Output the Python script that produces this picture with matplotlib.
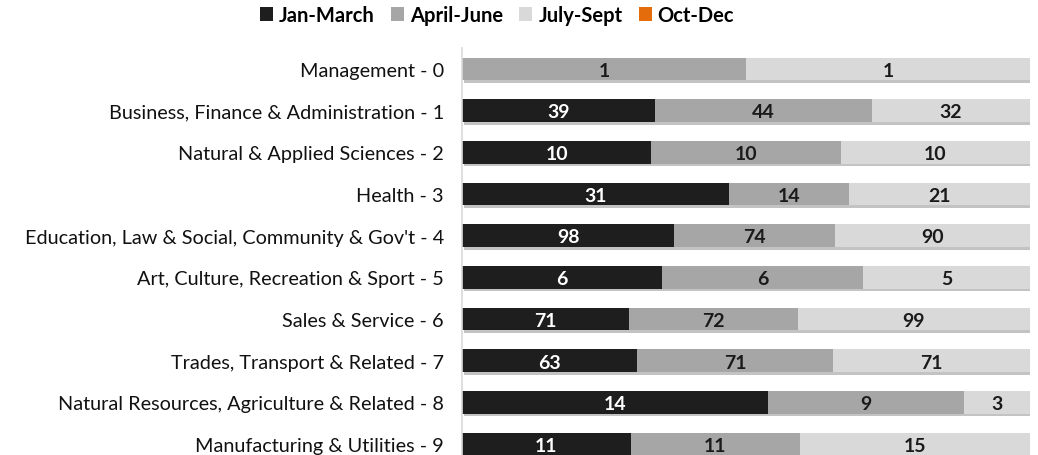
import matplotlib
matplotlib.use("Agg")
import matplotlib.pyplot as plt
import matplotlib.patheffects as pe
import numpy as np

categories = ["Management - 0", "Business, Finance & Administration - 1",
              "Natural & Applied Sciences - 2", "Health - 3",
              "Education, Law & Social, Community & Gov't - 4",
              "Art, Culture, Recreation & Sport - 5", "Sales & Service - 6",
              "Trades, Transport & Related - 7",
              "Natural Resources, Agriculture & Related - 8",
              "Manufacturing & Utilities - 9"]
series_names = ["Jan-March", "April-June", "July-Sept", "Oct-Dec"]
jan_march = [0, 39, 10, 31, 98, 6, 71, 63, 14, 11]
april_june = [1, 44, 10, 14, 74, 6, 72, 71, 9, 11]
july_sept = [1, 32, 10, 21, 90, 5, 99, 71, 3, 15]
oct_dec = [0, 0, 0, 0, 0, 0, 0, 0, 0, 0]

colors = ["#1e1e1e", "#a6a6a6", "#d9d9d9", "#e46c0a"]
text_colors = ["white", "#1a1a1a", "#1a1a1a", "#1a1a1a"]

plt.rcParams['font.family'] = ['Lato', 'DejaVu Sans']

fig = plt.figure(figsize=(10.38, 4.56), dpi=100)
ax = fig.add_axes([462/1038, 0.0, (1030-462)/1038, 1-49/456])

data = np.array([jan_march, april_june, july_sept, oct_dec], dtype=float)
totals = data.sum(axis=0)
pct = data / totals
y = np.arange(len(categories))
left = np.zeros(len(categories))
shadow = [pe.SimplePatchShadow(offset=(1.5, -2), alpha=0.35, shadow_rgbFace="#555555"), pe.Normal()]
for i, name in enumerate(series_names):
    bars = ax.barh(y, pct[i], left=left, height=0.54, color=colors[i], label=name,
                   zorder=2)
    for b, v, l, p in zip(bars, data[i], left, pct[i]):
        b.set_path_effects(shadow)
        if v > 0:
            ax.text(l + p / 2, b.get_y() + b.get_height() / 2 + 0.03, f"{int(v)}",
                    ha="center", va="center", fontsize=14, fontweight="bold",
                    color=text_colors[i], zorder=3)
    left = left + pct[i]

ax.set_xlim(0, 1)
ax.set_ylim(-0.5 + (456 - 49) / 41.7, -0.5)
ax.set_yticks(y)
ax.set_yticklabels(categories, fontsize=14.3, color="#111111")
ax.tick_params(axis="y", length=0, pad=13)
ax.set_xticks([])
for s in ["top", "right", "bottom"]:
    ax.spines[s].set_visible(False)
ax.spines["left"].set_color("#d9d9d9")
ax.spines["left"].set_linewidth(1.2)

leg = fig.legend(loc="center", bbox_to_anchor=(497/1038, 1-16/456), ncol=4,
                 frameon=False, prop={"weight": "bold", "size": 14.5},
                 handlelength=0.65, handleheight=0.65, handletextpad=0.3,
                 columnspacing=0.8)
for h in leg.legend_handles:
    h.set_path_effects([])

fig.savefig("out.png", dpi=100)
